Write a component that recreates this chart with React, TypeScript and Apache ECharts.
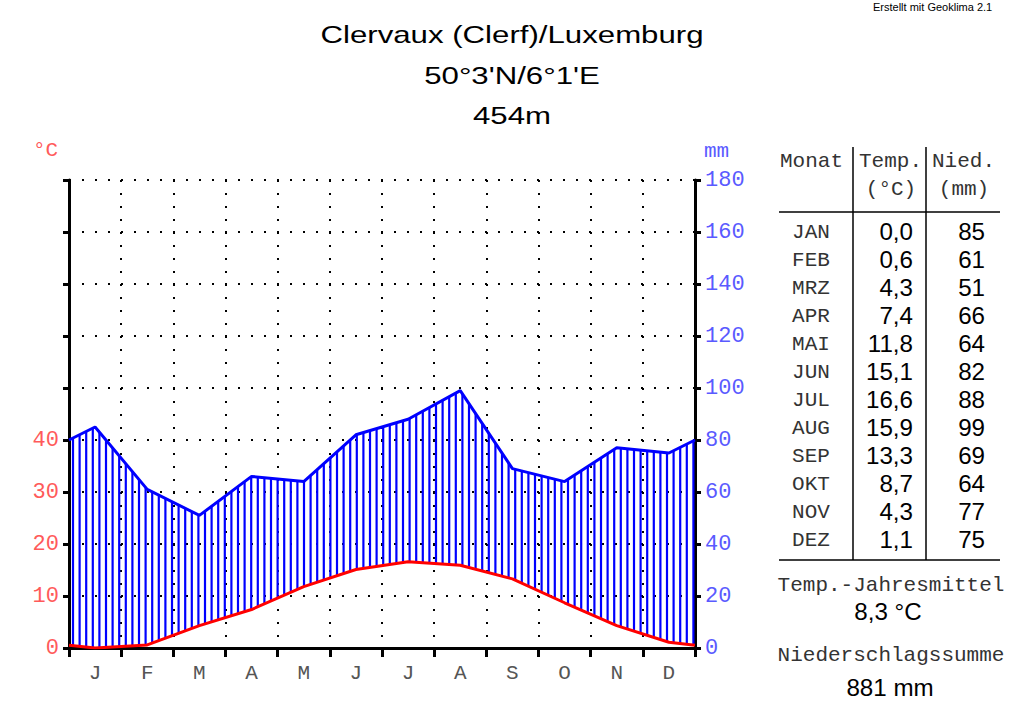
import { useEffect, useRef } from 'react'
import * as echarts from 'echarts'

// Klimadaten Clervaux
const monthLetters = ['J', 'F', 'M', 'A', 'M', 'J', 'J', 'A', 'S', 'O', 'N', 'D']
const monthNames = ['JAN', 'FEB', 'MRZ', 'APR', 'MAI', 'JUN', 'JUL', 'AUG', 'SEP', 'OKT', 'NOV', 'DEZ']
const temps = [0.0, 0.6, 4.3, 7.4, 11.8, 15.1, 16.6, 15.9, 13.3, 8.7, 4.3, 1.1]
const precip = [85, 61, 51, 66, 64, 82, 88, 99, 69, 64, 77, 75]
const maxTempLabel = 40
const titleLines = ['Clervaux (Clerf)/Luxemburg', "50°3'N/6°1'E", '454m']

const MONO = "'Liberation Mono', 'Courier New', monospace"
const SANS = "'Liberation Sans', Arial, sans-serif"

// Punkte in Monatsmitte, Ränder = Mittel aus Dez/Jan
const withEdges = (vals: number[]) => {
  const edge = (vals[0] + vals[11]) / 2
  return [[0, edge], ...vals.map((v, i) => [i + 0.5, v]), [12, edge]]
}
const tempPts = withEdges(temps)
const precipPts = withEdges(precip)

const fmt = (v: number) => v.toFixed(1).replace('.', ',')
const meanTemp = temps.reduce((a, b) => a + b, 0) / 12
const sumPrecip = precip.reduce((a, b) => a + b, 0)

const interpY = (pts: number[][], x: number) => {
  for (let i = 0; i < pts.length - 1; i++) {
    const [x1, y1] = pts[i]
    const [x2, y2] = pts[i + 1]
    if (x >= x1 && x <= x2) return y1 + ((x - x1) / (x2 - x1)) * (y2 - y1)
  }
  return pts[pts.length - 1][1]
}

const monoText = (text: string, x: number, y: number, align = 'left') => ({
  type: 'text',
  x, y,
  style: { text, x: 0, y: 0, font: `21px ${MONO}`, fill: '#333', textAlign: align, textVerticalAlign: 'middle' },
})
const sansText = (text: string, x: number, y: number, align = 'right', size = 23, sx = 1.05) => ({
  type: 'text',
  x, y, scaleX: sx,
  style: { text, x: 0, y: 0, font: `${size}px ${SANS}`, fill: '#000', textAlign: align, textVerticalAlign: 'middle' },
})

export default function App() {
  const cDom = useRef<HTMLDivElement>(null)

  useEffect(() => {
    if (!cDom.current) return
    const chart = echarts.init(cDom.current, null, { renderer: 'svg' })

    const graphics: any[] = []
    // Titel
    titleLines.forEach((t, i) => {
      graphics.push({
        type: 'text', x: 512, y: 35 + i * 40.5, scaleX: 1.3,
        style: { text: t, x: 0, y: 0, font: `24px ${SANS}`, fill: '#000', textAlign: 'center', textVerticalAlign: 'middle' },
      })
    })
    graphics.push({
      type: 'text', x: 873, y: 7,
      style: { text: 'Erstellt mit Geoklima 2.1', x: 0, y: 0, font: `11px ${SANS}`, fill: '#000', textAlign: 'left', textVerticalAlign: 'middle' },
    })
    // Achsen-Einheiten
    graphics.push({
      type: 'text', x: 33, y: 150,
      style: { text: '°C', x: 0, y: 0, font: `21px ${MONO}`, fill: '#ff5a5a', textAlign: 'left', textVerticalAlign: 'middle' },
    })
    graphics.push({
      type: 'text', x: 704, y: 151,
      style: { text: 'mm', x: 0, y: 0, font: `21px ${MONO}`, fill: '#5a5aff', textAlign: 'left', textVerticalAlign: 'middle' },
    })
    // Tabelle
    graphics.push(monoText('Monat', 780, 161))
    graphics.push(monoText('Temp.', 859, 161))
    graphics.push(monoText('(°C)', 891, 189, 'center'))
    graphics.push(monoText('Nied.', 932, 161))
    graphics.push(monoText('(mm)', 964, 189, 'center'))
    const lineStyle = { stroke: '#000', lineWidth: 1.5 }
    graphics.push({ type: 'line', shape: { x1: 853, y1: 147, x2: 853, y2: 560 }, style: lineStyle })
    graphics.push({ type: 'line', shape: { x1: 926, y1: 147, x2: 926, y2: 560 }, style: lineStyle })
    graphics.push({ type: 'line', shape: { x1: 779, y1: 212, x2: 1000, y2: 212 }, style: lineStyle })
    graphics.push({ type: 'line', shape: { x1: 779, y1: 560, x2: 1000, y2: 560 }, style: lineStyle })
    monthNames.forEach((m, i) => {
      const y = 232 + i * 28
      graphics.push(monoText(m, 811, y, 'center'))
      graphics.push(sansText(fmt(temps[i]), 913, y))
      graphics.push(sansText(String(precip[i]), 985, y))
    })
    graphics.push(monoText('Temp.-Jahresmittel', 891, 585, 'center'))
    graphics.push(sansText(`${fmt(meanTemp)} °C`, 888, 612, 'center'))
    graphics.push(monoText('Niederschlagssumme', 891, 655, 'center'))
    graphics.push(sansText(`${sumPrecip} mm`, 890, 688, 'center'))

    const dotted = { type: [2, 11], width: 2, color: '#000' }

    const options: any = {
      animation: false,
      backgroundColor: '#fff',
      grid: { left: 69, right: 329, top: 180, bottom: 65, containLabel: false },
      xAxis: [
        {
          type: 'category',
          data: monthLetters,
          boundaryGap: true,
          axisLine: { lineStyle: { color: '#000', width: 3 } },
          axisTick: { show: true, interval: 0, length: 9, lineStyle: { width: 3, color: '#000' } },
          axisLabel: { interval: 0, margin: 15, color: '#555', fontFamily: MONO, fontSize: 21 },
          splitLine: { show: true, interval: 0, lineStyle: dotted },
        },
        { type: 'value', min: 0, max: 12, show: false },
      ],
      yAxis: [
        {
          type: 'value', position: 'left', min: 0, max: 90, interval: 10,
          axisLine: { show: true, lineStyle: { color: '#000', width: 3 } },
          axisTick: { show: true, length: 6, lineStyle: { width: 3, color: '#000' } },
          axisLabel: {
            margin: 10, color: '#ff5a5a', fontFamily: MONO, fontSize: 22,
            formatter: (v: number) => (v <= maxTempLabel ? String(v) : ''),
          },
          splitLine: { show: false },
        },
        {
          type: 'value', position: 'right', min: 0, max: 180, interval: 20,
          axisLine: { show: true, lineStyle: { color: '#000', width: 3 } },
          axisTick: { show: true, length: 6, lineStyle: { width: 3, color: '#000' } },
          axisLabel: { margin: 10, color: '#5a5aff', fontFamily: MONO, fontSize: 22 },
          splitLine: { show: true, lineStyle: dotted },
        },
      ],
      graphic: graphics,
      series: [
        {
          // humide Zeit: senkrechte Schraffur zwischen Niederschlag und Temperatur
          type: 'custom',
          xAxisIndex: 1,
          yAxisIndex: 1,
          z: 1,
          data: [[0, 0]],
          renderItem: (_params: any, api: any) => {
            const pp = precipPts.map((p) => api.coord([p[0], p[1]]))
            const tp = tempPts.map((p) => api.coord([p[0], p[1] * 2]))
            const left = pp[0][0]
            const right = pp[pp.length - 1][0]
            const children: any[] = []
            for (let x = left + 4; x < right; x += 6.6) {
              const yP = interpY(pp, x)
              const yT = interpY(tp, x)
              if (yP < yT) {
                children.push({
                  type: 'line',
                  shape: { x1: x, y1: yP, x2: x, y2: yT },
                  style: { stroke: '#0000ff', lineWidth: 2.2 },
                })
              }
            }
            return { type: 'group', children }
          },
        },
        {
          name: 'Temperatur',
          type: 'line',
          xAxisIndex: 1,
          yAxisIndex: 0,
          z: 3,
          symbol: 'none',
          lineStyle: { color: '#ff0000', width: 3 },
          data: tempPts,
        },
        {
          name: 'Niederschlag',
          type: 'line',
          xAxisIndex: 1,
          yAxisIndex: 1,
          z: 3,
          symbol: 'none',
          lineStyle: { color: '#0000ff', width: 3 },
          data: precipPts,
        },
      ],
    }

    chart.setOption(options)
    return () => {
      chart.dispose()
    }
  }, [])

  return (
    <div
      ref={cDom}
      style={{ position: 'absolute', left: 0, top: 0, width: 1024, height: 713, background: '#fff' }}
    ></div>
  )
}
